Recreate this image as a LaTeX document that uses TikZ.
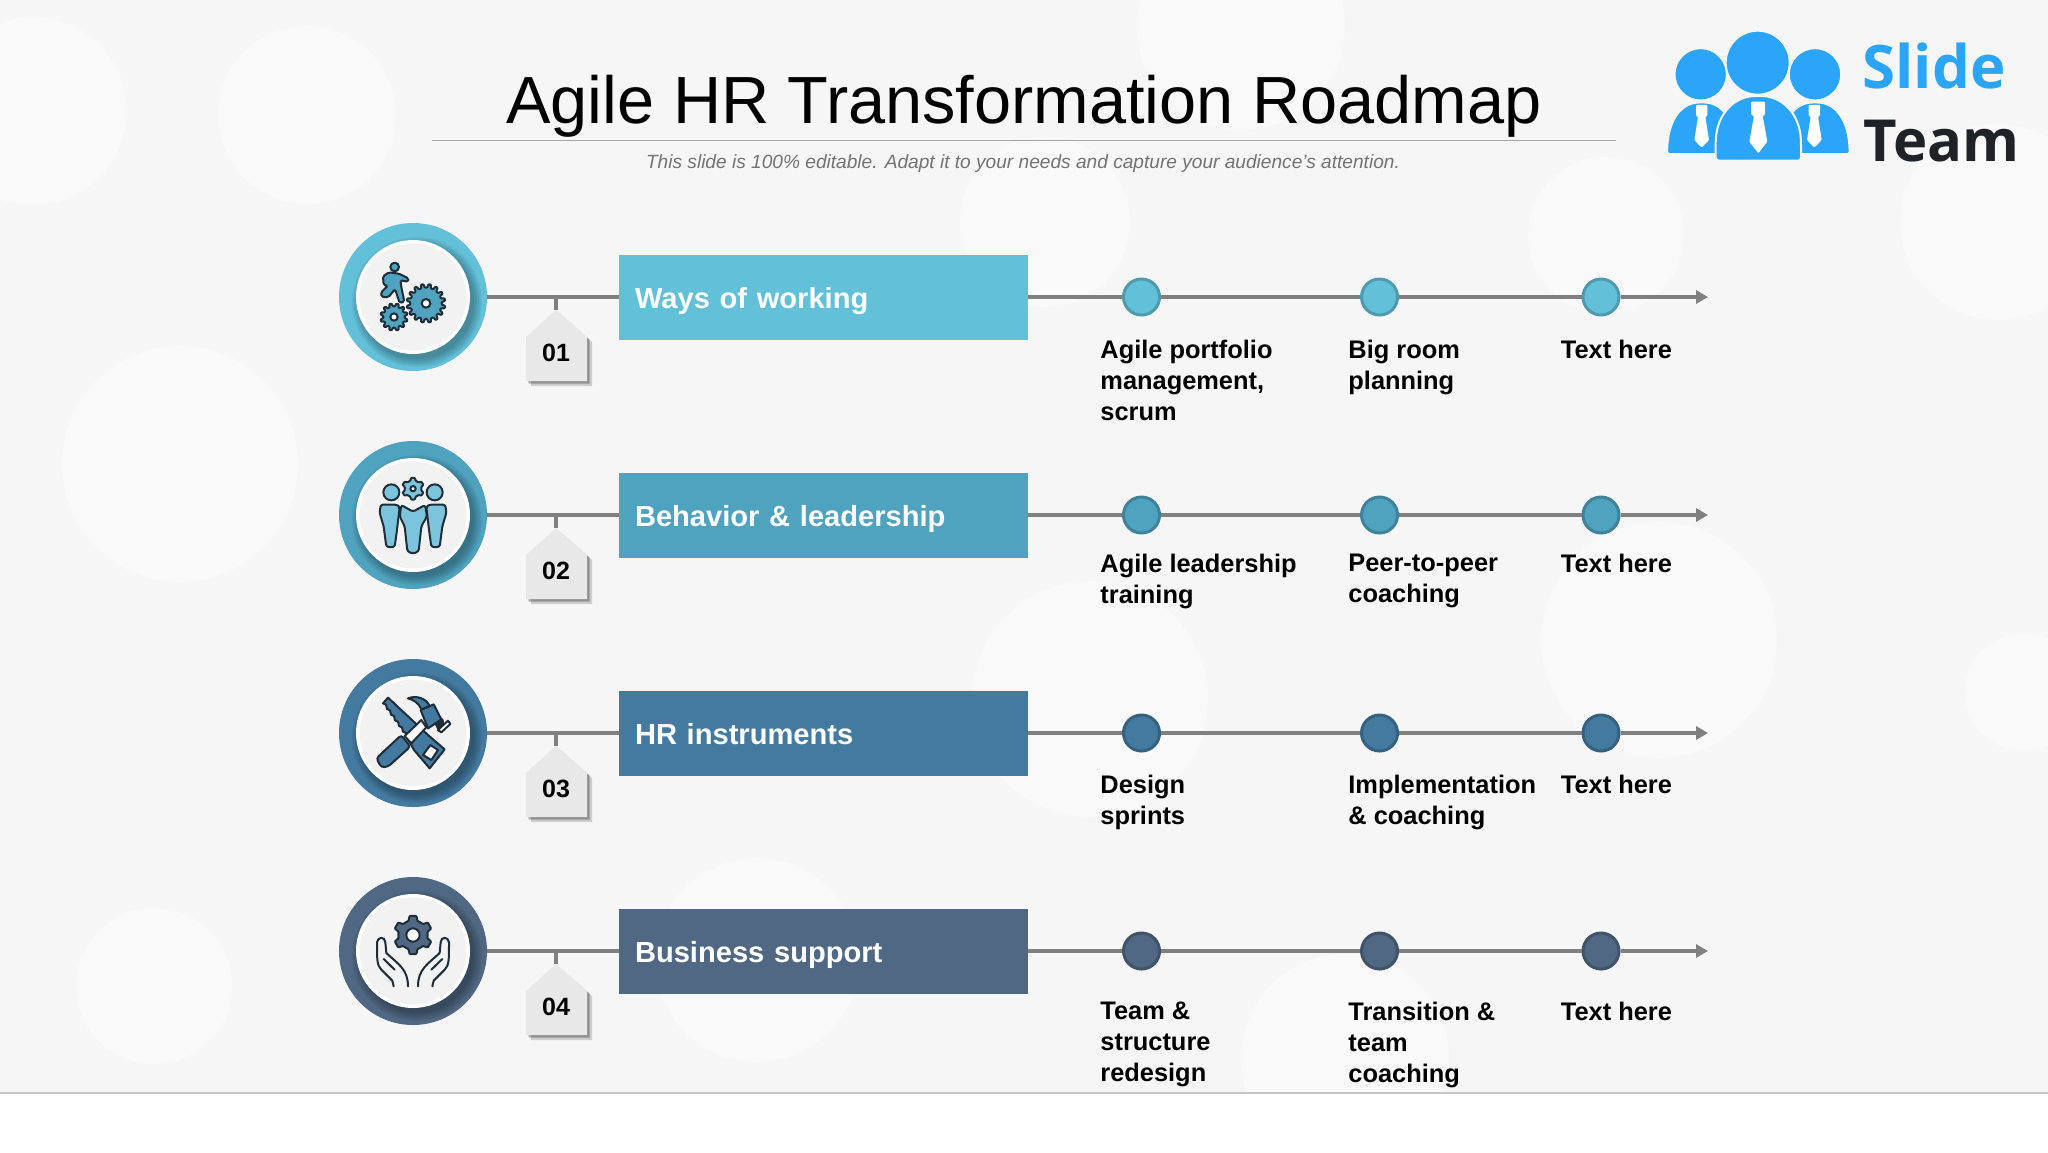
\documentclass[tikz,border=0pt]{standalone}
\usepackage{fontspec}
\setmainfont{Liberation Sans}
\newfontfamily\logofont{Open Sans}
\usetikzlibrary{arrows.meta}
\definecolor{pagegray}{HTML}{F6F6F7}
\definecolor{spotgray}{HTML}{F9F9F9}
\definecolor{rowa}{HTML}{62C0D9}
\definecolor{rowb}{HTML}{4FA3BF}
\definecolor{rowc}{HTML}{447A9F}
\definecolor{rowd}{HTML}{506883}
\definecolor{pale}{HTML}{7CC4DC}
\definecolor{inkline}{HTML}{1E2D38}
\definecolor{logoblue}{HTML}{2AA5F9}
\definecolor{logoink}{HTML}{1F2328}
\tikzset{
  ringnode/.style={circle,inner sep=0pt,minimum size=74pt},
  boxnode/.style={inner xsep=8pt,inner ysep=0pt,text width=188.5pt,minimum height=42.5pt,text height=11.5pt,text depth=0pt,align=left,text=white,font=\bfseries\fontsize{14.55}{17}\selectfont},
  dotnode/.style={circle,inner sep=0pt,minimum size=18pt,line width=1.5pt},
  itemnode/.style={anchor=north west,inner sep=0pt,align=left,font=\bfseries\fontsize{12.7}{15.35}\selectfont},
  tagnode/.style={inner sep=0pt,font=\bfseries\fontsize{12.5}{15}\selectfont},
  rowline/.style={draw=black!50,line width=2pt},
  iconline/.style={draw=inkline,line width=1pt,line join=round,line cap=round},
  zoomed/.style n args={4}{shift={(#1,#2)},scale=.3333,shift={(-#3,-#4)}},
}
\newcommand\drawgear[7]{%
  \begin{scope}[shift={(#1,#2)}]
    \pgfmathsetmacro\gstep{360/#5}
    \draw[iconline,fill=#7,rounded corners=.4pt] (0:#4)
      \foreach \k in {1,...,#5}{
        -- ({(\k-1+.2)*\gstep}:#4) -- ({(\k-1+.33)*\gstep}:#3) -- ({(\k-1+.67)*\gstep}:#3) -- ({(\k-1+.8)*\gstep}:#4) -- ({\k*\gstep}:#4)
      } -- cycle;
    \draw[iconline,fill=white] (0,0) circle (#6);
  \end{scope}}
\begin{document}
\begin{tikzpicture}[x=.5pt,y=-.5pt]
\useasboundingbox (0,0) rectangle (2048,1152);
\fill[pagegray] (0,0) rectangle (2048,1093);
% pale spots behind everything
\begin{scope}
\clip (0,0) rectangle (2048,1093);
\foreach \sx/\sy/\sr in {33/111/94,307/115/89,180/464/118,154/986/78,757/960/102,1090/699/118,1659/640/118,1345/1058/104,1606/235/78,1241/26/104,1045/222/85,1998/222/98,2024/692/59}
  \fill[spotgray] (\sx,\sy) circle (\sr);
\end{scope}
% title
\node[anchor=base,inner sep=0pt,font=\fontsize{33.35}{38}\selectfont] (title) at (1024,123.5) {Agile HR Transformation Roadmap};
\coordinate (rulea) at (432,140.5);
\coordinate (ruleb) at (1616,140.5);
\draw[black!35,line width=.6pt] (rulea) -- (ruleb);
\node[anchor=base,inner sep=0pt,text=black!55,font=\itshape\fontsize{9.56}{11}\selectfont] (subtitle) at (1023,168.5) {This slide is 100\% editable. Adapt it to your needs and capture your audience’s attention.};
% the four rows
\foreach \rowid/\rowy/\rowcol/\rowtext/\rownum in {1/297/rowa/Ways of working/01,2/515/rowb/Behavior \& leadership/02,3/733/rowc/HR instruments/03,4/951/rowd/Business support/04}{
  \node[ringnode,fill=\rowcol] (ring\rowid) at (413,\rowy) {};
  \foreach \k in {0,...,5}
    \fill[black,opacity=.05] ({413+4},{\rowy+5}) circle ({57+\k*1.6});
  \fill[white] (413,\rowy) circle (57);
  \fill[black!5] (413,\rowy) circle (53.5);
  \node[boxnode,fill=\rowcol] (box\rowid) at (823.5,\rowy) {\rowtext};
  \node[dotnode,fill=\rowcol,draw=\rowcol!80!black] (dot\rowid a) at (1141.5,\rowy) {};
  \node[dotnode,fill=\rowcol,draw=\rowcol!80!black] (dot\rowid b) at (1379.5,\rowy) {};
  \node[dotnode,fill=\rowcol,draw=\rowcol!80!black] (dot\rowid c) at (1601,\rowy) {};
  \coordinate (end\rowid) at (1708,\rowy);
  \draw[rowline] (ring\rowid) -- (box\rowid);
  \draw[rowline] (box\rowid) -- (dot\rowid a);
  \draw[rowline] (dot\rowid a) -- (dot\rowid b);
  \draw[rowline] (dot\rowid b) -- (dot\rowid c);
  \draw[rowline,-{Triangle[length=6pt,width=6.5pt]}] (dot\rowid c) -- (end\rowid);
  % hanging number tag
  \foreach \k in {2,3,5}
    \fill[black,opacity=.16] ({526+\k},{\rowy+40+\k}) -- ({556+\k},{\rowy+13+\k}) -- ({587+\k},{\rowy+40+\k}) -- ({587+\k},{\rowy+84+\k}) -- ({526+\k},{\rowy+84+\k}) -- cycle;
  \fill[black!9] (526,\rowy+40) -- (556,\rowy+13) -- (587,\rowy+40) -- (587,\rowy+84) -- (526,\rowy+84) -- cycle;
  \coordinate (stem\rowid) at (556,\rowy);
  \coordinate (tagtop\rowid) at (556,\rowy+13);
  \draw[rowline] (stem\rowid) -- (tagtop\rowid);
  \node[tagnode] (tag\rowid) at (556,\rowy+56) {\rownum};
}
% texts under the dots
\foreach \itemid/\ix/\iy/\itemtext in {
  1a/1100/340/{Agile portfolio\\management,\\scrum},1b/1348/340/{Big room\\planning},1c/1560.5/340/{Text here},
  2a/1100/554/{Agile leadership\\training},2b/1348/554/{Peer-to-peer\\coaching},2c/1560.5/554/{Text here},
  3a/1100/775/{Design\\sprints},3b/1348/775/{Implementation\\\& coaching},3c/1560.5/775/{Text here},
  4a/1100/1002/{Team \&\\structure\\redesign},4b/1348/1002/{Transition \&\\team\\coaching},4c/1560.5/1002/{Text here}}
  \node[itemnode] (item\itemid) at (\ix,\iy) {\itemtext};
% icon 1: runner on gears
\begin{scope}[zoomed={413}{297}{280}{262}]
\draw[iconline,fill=rowb] (225,172) circle (13);
\draw[iconline,fill=rowb,rounded corners=.8pt] (208,188) -- (190,200) -- (192,226) -- (205,228) -- (184,248) -- (186,262) -- (207,262) -- (226,238) -- (240,280) -- (254,276) -- (245,232) -- (242,212) -- (266,216) -- (266,206) -- (238,192) -- cycle;
\drawgear{319}{281}{58}{47}{16}{13}{rowb}
\drawgear{223}{322}{41}{32}{12}{11}{rowb}
\end{scope}
% icon 2: team with gear
\begin{scope}[zoomed={413}{515}{280}{256}]
\draw[iconline,fill=pale] (215,188) circle (24);
\draw[iconline,fill=pale] (345,188) circle (24);
\drawgear{280}{177}{33}{25}{6}{8}{pale}
\foreach \mx/\my in {0/1,560/-1}{
  \begin{scope}[shift={(\mx,0)},xscale=\my]
  \draw[iconline,fill=pale,rounded corners=1.2pt] (183,225) -- (232,225) -- (240,232) -- (232,300) -- (225,352) -- (200,352) -- (192,290) -- (180,250) -- cycle;
  \end{scope}
}
\draw[iconline,fill=pale,rounded corners=1.2pt] (245,226) -- (280,246) -- (316,226) -- (322,260) -- (305,290) -- (297,365) -- (280,372) -- (263,365) -- (255,290) -- (240,260) -- cycle;
\end{scope}
% icon 3: saw and hammer
\begin{scope}[zoomed={413}{733}{280}{249}]
\draw[iconline,fill=rowc] (205,143) -- (190,160)
  \foreach \k in {0,...,5}{ -- ({190+12*\k+9},{160+17*\k+4}) -- ({190+12*(\k+1)},{160+17*(\k+1)}) }
  -- (283,300) -- (330,355) -- (375,298) -- (325,255) -- cycle;
\draw[iconline,fill=white] (310,315) -- (332,285) -- (355,300) -- (335,330) -- cycle;
\draw[iconline,fill=rowc,rounded corners=1.5pt] (170,325) -- (245,255) -- (272,290) -- (205,350) -- (185,352) -- cycle;
\draw[iconline,fill=white] (255,258) -- (305,210) -- (320,232) -- (275,280) -- cycle;
\draw[iconline,fill=inkline] (345,215) -- (368,208) -- (372,225) -- (355,235) -- cycle;
\draw[iconline,fill=rowc] (303,180) -- (342,163) -- (365,208) -- (325,235) -- cycle;
\draw[iconline,fill=rowc] (305,178) .. controls (295,155) and (280,150) .. (265,145) .. controls (290,135) and (320,145) .. (330,168) -- cycle;
\draw[iconline,fill=white] (355,240) -- (385,212) -- (392,222) -- (365,247) -- cycle;
\end{scope}
% icon 4: hands holding gear
\begin{scope}[zoomed={413}{951}{280}{256}]
\drawgear{280}{208}{58}{44}{6}{20}{rowd}
\foreach \mx/\my in {0/1,560/-1}{
  \begin{scope}[shift={(\mx,0)},xscale=\my]
  \draw[iconline] (222,362) -- (218,345) -- (185,312) .. controls (172,298) and (172,285) .. (172,230) .. controls (174,212) and (196,212) .. (197,230) -- (200,262) .. controls (235,295) and (265,310) .. (265,362);
  \draw[iconline] (192,280) -- (225,312);
  \end{scope}
}
\end{scope}
% logo
\begin{scope}[zoomed={1650}{10}{0}{0}]
\fill[logoblue,draw=pagegray,line width=.8pt,rounded corners=1.2pt] (52,432) .. controls (52,330) and (95,278) .. (155,278) .. controls (215,278) and (258,330) .. (258,432) -- cycle;
\fill[logoblue,draw=pagegray,line width=.8pt,rounded corners=1.2pt] (392,432) .. controls (392,330) and (435,278) .. (495,278) .. controls (555,278) and (598,330) .. (598,432) -- cycle;
\fill[logoblue,draw=pagegray,line width=1pt,rounded corners=1.5pt] (197,452) -- (197,400) .. controls (200,310) and (255,258) .. (325,258) .. controls (395,258) and (450,310) .. (453,400) -- (453,452) -- cycle;
\fill[logoblue,draw=pagegray,line width=.8pt] (152,193) circle (78);
\fill[logoblue,draw=pagegray,line width=.8pt] (495,193) circle (78);
\fill[logoblue,draw=pagegray,line width=1pt] (323,158) circle (96);
\fill[white,rounded corners=.5pt] (303,275) -- (345,275) -- (345,315) -- (338,317) -- (352,395) -- (325,430) -- (298,395) -- (312,317) -- (303,315) -- cycle;
\foreach \tx in {155,493}
  \fill[white,rounded corners=.5pt] ({\tx-17},285) -- ({\tx+17},285) -- ({\tx+17},318) -- ({\tx+11},320) -- ({\tx+22},390) -- (\tx,413) -- ({\tx-22},390) -- ({\tx-11},320) -- ({\tx-17},318) -- cycle;
\end{scope}
\node[anchor=base west,inner sep=0pt,text=logoblue,font=\logofont\bfseries\fontsize{30}{34}\selectfont] (logoslide) at (1862,88) {Slide};
\node[anchor=base west,inner sep=0pt,text=logoink,font=\logofont\bfseries\fontsize{29}{34}\selectfont] (logoteam) at (1863,161) {Team};
% bottom edge
\coordinate (edgea) at (0,1093);
\coordinate (edgeb) at (2048,1093);
\draw[black!22,line width=.7pt] (edgea) -- (edgeb);
\end{tikzpicture}
\end{document}
